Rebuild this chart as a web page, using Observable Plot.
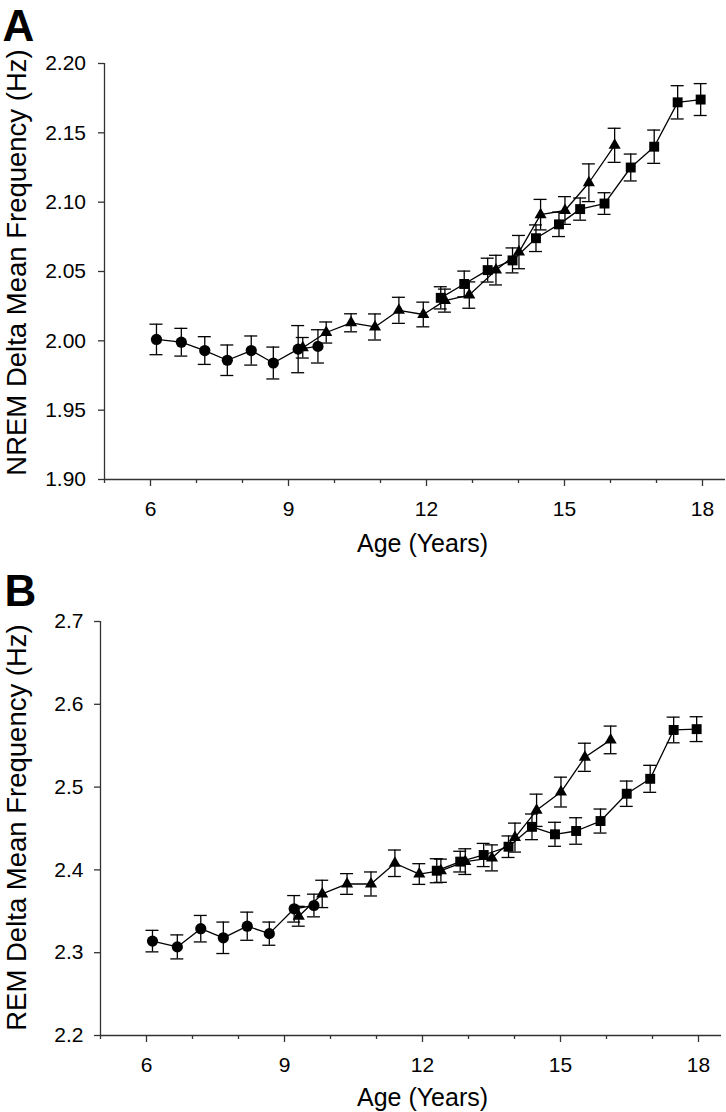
<!DOCTYPE html>
<html><head><meta charset="utf-8">
<script src="https://cdn.jsdelivr.net/npm/d3@7"></script>
<script src="https://cdn.jsdelivr.net/npm/@observablehq/plot@0.6"></script>
<style>
html,body{margin:0;padding:0;background:#fff;width:726px;height:1112px;overflow:hidden}
#chart svg{display:block}
</style></head><body><div id="chart"></div>
<script>
// Ages (years) for the three cohorts
const circleAges   = [6.13, 6.67, 7.18, 7.67, 8.19, 8.67, 9.21, 9.64];
const triangleAges = [9.31, 9.82, 10.36, 10.88, 11.40, 11.93, 12.40, 12.93, 13.51, 14.01, 14.48, 15.01, 15.53, 16.09];
const squareAges   = [12.31, 12.82, 13.33, 13.87, 14.38, 14.88, 15.34, 15.87, 16.44, 16.95, 17.46, 17.96];

// Panel A: NREM delta mean frequency (Hz) and SEM
const nremCircle    = [2.001, 1.999, 1.993, 1.986, 1.993, 1.984, 1.994, 1.996];
const nremCircleErr = [0.011, 0.010, 0.010, 0.011, 0.0105, 0.0115, 0.017, 0.012];
const nremTriangle    = [1.995, 2.006, 2.013, 2.010, 2.022, 2.019, 2.029, 2.033, 2.051, 2.064, 2.091, 2.094, 2.114, 2.141];
const nremTriangleErr = [0.0074, 0.0076, 0.0065, 0.0094, 0.0094, 0.0089, 0.0083, 0.0095, 0.0107, 0.012, 0.011, 0.010, 0.0136, 0.0123];
const nremSquare    = [2.031, 2.041, 2.051, 2.058, 2.074, 2.084, 2.095, 2.099, 2.125, 2.140, 2.172, 2.174];
const nremSquareErr = [0.008, 0.0093, 0.0086, 0.009, 0.0096, 0.0088, 0.008, 0.0078, 0.0097, 0.012, 0.012, 0.0115];

// Panel B: REM delta mean frequency (Hz) and SEM
const remCircle    = [2.314, 2.307, 2.329, 2.318, 2.332, 2.323, 2.353, 2.357];
const remCircleErr = [0.013, 0.0145, 0.016, 0.019, 0.017, 0.014, 0.016, 0.0137];
const remTriangle    = [2.344, 2.371, 2.383, 2.383, 2.408, 2.395, 2.399, 2.410, 2.4145, 2.439, 2.472, 2.494, 2.536, 2.557];
const remTriangleErr = [0.012, 0.0165, 0.0125, 0.0145, 0.016, 0.0125, 0.014, 0.0155, 0.0157, 0.0175, 0.0195, 0.018, 0.017, 0.0167];
const remSquare    = [2.399, 2.410, 2.418, 2.428, 2.452, 2.443, 2.447, 2.459, 2.492, 2.510, 2.569, 2.570];
const remSquareErr = [0.0145, 0.0125, 0.014, 0.013, 0.0155, 0.0145, 0.016, 0.0145, 0.0153, 0.0163, 0.0155, 0.015];

// Axis ticks and labels
const xMajorTicks = [6, 9, 12, 15, 18];
const xMinorTicks = [5, 7, 8, 10, 11, 13, 14, 16, 17];
const yTicksA = [1.90, 1.95, 2.00, 2.05, 2.10, 2.15, 2.20];
const yTicksB = [2.2, 2.3, 2.4, 2.5, 2.6, 2.7];
const xTitle = "Age (Years)";
const yTitleA = "NREM Delta Mean Frequency (Hz)";
const yTitleB = "REM Delta Mean Frequency (Hz)";

const rows = (ages, vals, errs) => ages.map((a, i) => ({age: a, v: vals[i], e: errs[i]}));

const axisColor = "#333";
const font = "'Liberation Sans', Arial, Helvetica, sans-serif";

function panel(cfg) {
  const series = [
    {data: rows(circleAges, cfg.circle, cfg.circleErr), symbol: "circle", r: 5.6},
    {data: rows(triangleAges, cfg.triangle, cfg.triangleErr), symbol: "triangle", r: 4.5},
    {data: rows(squareAges, cfg.square, cfg.squareErr), symbol: "square", r: 5.6}
  ];
  const marks = [
    Plot.ruleX([5], {stroke: axisColor, strokeWidth: 1.3}),
    Plot.ruleY([cfg.yDomain[0]], {stroke: axisColor, strokeWidth: 1.3}),
    Plot.axisY(cfg.yTicks, {tickSize: 6, tickPadding: cfg.yPad, tickFormat: d3.format(cfg.yFormat), fontSize: 21, stroke: axisColor, fill: "#000", strokeWidth: 1.3, label: null}),
    Plot.axisX(xMajorTicks, {tickSize: 7, tickPadding: 15, fontSize: 21, stroke: axisColor, fill: "#000", strokeWidth: 1.3, label: null}),
    Plot.axisX(xMinorTicks, {tickSize: 4, fill: "none", stroke: axisColor, strokeWidth: 1.3, label: null})
  ];
  for (const s of series) {
    marks.push(Plot.ruleX(s.data, {x: "age", y1: d => d.v - d.e, y2: d => d.v + d.e, stroke: "#000", strokeWidth: 1.3}));
    marks.push(Plot.ruleY(s.data, {y: d => d.v + d.e, x1: d => d.age, x2: d => d.age, insetLeft: -6.5, insetRight: -6.5, stroke: "#000", strokeWidth: 1.3}));
    marks.push(Plot.ruleY(s.data, {y: d => d.v - d.e, x1: d => d.age, x2: d => d.age, insetLeft: -6.5, insetRight: -6.5, stroke: "#000", strokeWidth: 1.3}));
  }
  for (const s of series) {
    marks.push(Plot.line(s.data, {x: "age", y: "v", stroke: "#000", strokeWidth: 1.3}));
  }
  for (const s of series) {
    marks.push(Plot.dot(s.data, {x: "age", y: "v", symbol: s.symbol, r: s.r, fill: "#000", stroke: "none"}));
  }
  marks.push(Plot.text([cfg.yTitle], {frameAnchor: "left", dx: cfg.yTitleDx, dy: cfg.yTitleDy, rotate: -90, textAnchor: "middle", lineAnchor: "bottom", fontSize: 27.5, fill: "#000"}));
  marks.push(Plot.text([xTitle], {frameAnchor: "bottom", dx: cfg.xTitleDx, dy: cfg.xTitleDy, textAnchor: "middle", lineAnchor: "bottom", fontSize: 25, fill: "#000"}));
  marks.push(Plot.text([cfg.letter], {frameAnchor: "top-left", dx: cfg.letterDx, dy: cfg.letterDy, textAnchor: "start", lineAnchor: "bottom", fontSize: 44, fontWeight: "bold", fill: "#000"}));
  return Plot.plot({
    width: 726,
    height: cfg.height,
    marginTop: cfg.marginTop,
    marginBottom: cfg.marginBottom,
    marginLeft: cfg.marginLeft,
    marginRight: cfg.marginRight,
    x: {domain: [5, 18.5], axis: null},
    y: {domain: cfg.yDomain, axis: null},
    style: {fontFamily: font, background: "white", color: "#000", overflow: "visible"},
    marks
  });
}

const chart = document.getElementById("chart");
chart.append(panel({
  letter: "A", yTitle: yTitleA,
  circle: nremCircle, circleErr: nremCircleErr,
  triangle: nremTriangle, triangleErr: nremTriangleErr,
  square: nremSquare, squareErr: nremSquareErr,
  yDomain: [1.90, 2.20], yTicks: yTicksA, yFormat: ".2f", yPad: 12.5,
  height: 560, marginTop: 63, marginBottom: 81, marginLeft: 104, marginRight: 1,
  yTitleDx: -79, yTitleDy: -9, xTitleDx: 7.5, xTitleDy: 72, letterDx: -102, letterDy: -23
}));
chart.append(panel({
  letter: "B", yTitle: yTitleB,
  circle: remCircle, circleErr: remCircleErr,
  triangle: remTriangle, triangleErr: remTriangleErr,
  square: remSquare, squareErr: remSquareErr,
  yDomain: [2.2, 2.7], yTicks: yTicksB, yFormat: ".1f", yPad: 11,
  height: 552, marginTop: 61, marginBottom: 77, marginLeft: 100, marginRight: 5,
  yTitleDx: -75, yTitleDy: -1, xTitleDx: 11.5, xTitleDy: 70, letterDx: -96, letterDy: -16
}));
</script>
</body></html>
